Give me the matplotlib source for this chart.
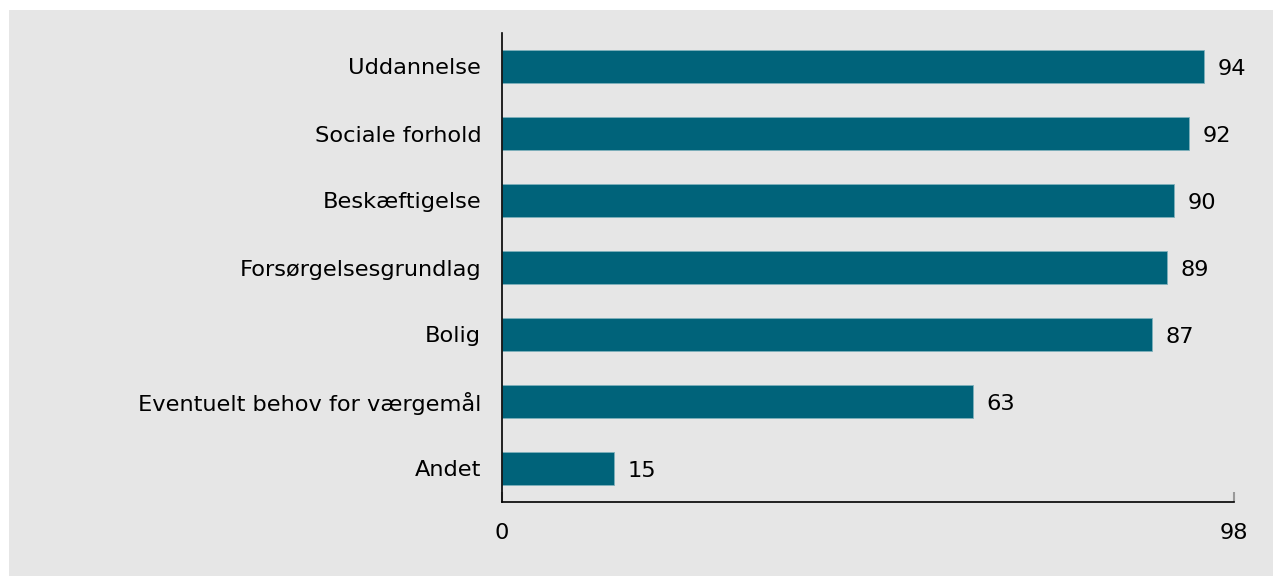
import matplotlib.pyplot as plt
from matplotlib.patches import Rectangle

categories = ['Uddannelse', 'Sociale forhold', 'Beskæftigelse', 'Forsørgelsesgrundlag',
              'Bolig', 'Eventuelt behov for værgemål', 'Andet']
values = [94, 92, 90, 89, 87, 63, 15]
xmax = 98

W, H = 1273, 576
fig = plt.figure(figsize=(W / 100, H / 100), dpi=100)
fig.patch.set_facecolor('white')
# grey panel behind the chart
fig.patches.append(Rectangle((9 / W, 0), (W - 9) / W, (H - 10) / H,
                             transform=fig.transFigure, facecolor='#e6e6e6',
                             edgecolor='none', zorder=-5))

ax = fig.add_axes([502 / W, (H - 502) / H, (1234 - 502) / W, (502 - 33) / H])
ax.set_zorder(1)
ax.set_facecolor('none')

fs = 16.2
y = list(range(len(categories)))[::-1]
ax.barh(y, values, height=0.5, color='#00637a', edgecolor='#7fb0bb', linewidth=0.6)
for yi, v in zip(y, values):
    ax.text(v + 1.8, yi - 0.03, str(v), va='center', ha='left', fontsize=fs)

ax.set_xlim(0, xmax)
ax.set_ylim(-0.5, len(categories) - 0.5)
ax.set_yticks(y)
ax.set_yticklabels(categories, fontsize=fs)
ax.tick_params(axis='y', length=0, pad=15)
ax.set_xticks([0, xmax])
ax.set_xticklabels(['0', str(xmax)], fontsize=fs)
ax.tick_params(axis='x', direction='in', length=7, color='#999999', width=1.5, pad=15)
for s in ['top', 'right']:
    ax.spines[s].set_visible(False)
ax.spines['left'].set_linewidth(1.2)
ax.spines['bottom'].set_linewidth(1.2)

fig.savefig('out.png', dpi=100)
